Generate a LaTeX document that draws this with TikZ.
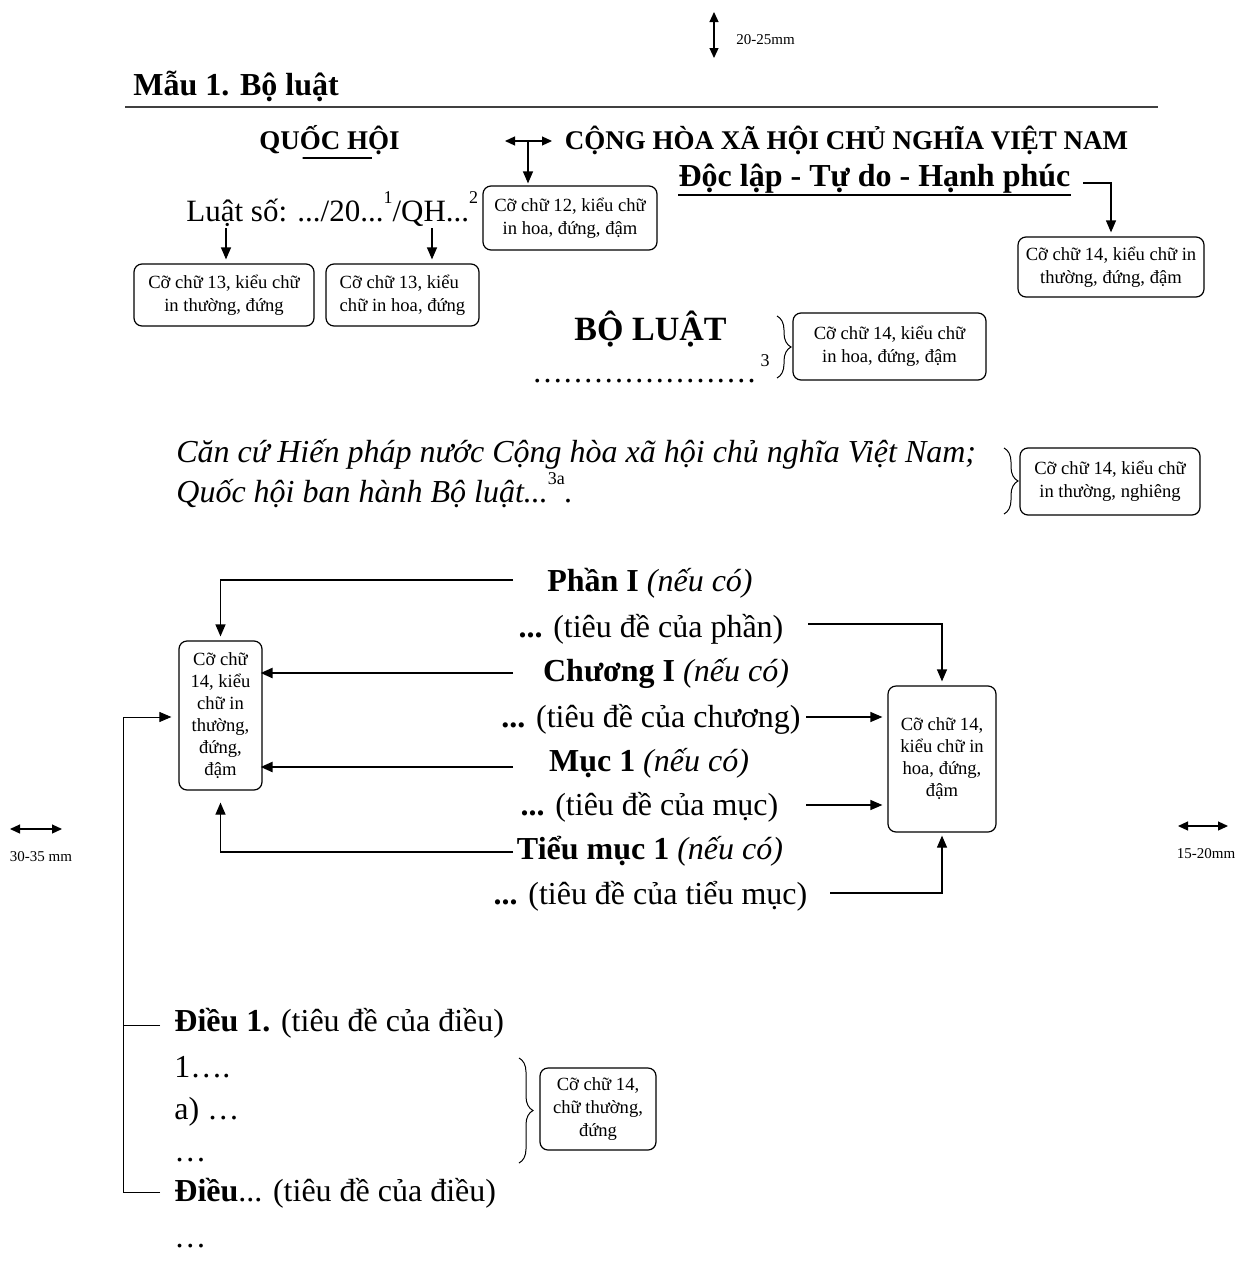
\documentclass[tikz,border=0pt]{standalone}
\usepackage{fontspec}
\setmainfont{Liberation Serif}
\usetikzlibrary{arrows.meta,decorations.pathreplacing,calc}
\begin{document}
\begin{tikzpicture}[x=0.5pt,y=-0.5pt,
  tip/.style={-{Triangle[length=6pt,width=5pt]}},
  dtip/.style={{Triangle[length=5pt,width=4.5pt]}-{Triangle[length=5pt,width=4.5pt]}},
  thinln/.style={line width=0.6pt},
  thickln/.style={line width=1.2pt},
  note/.style={draw,rounded corners=4pt,line width=0.6pt,inner sep=0pt,align=center,font=\fontsize{9.3}{11.5}\selectfont},
  body/.style={inner sep=0pt,font=\fontsize{16}{19}\selectfont},
  bodyb/.style={inner sep=0pt,font=\bfseries\fontsize{16}{19}\selectfont},
  bodyi/.style={inner sep=0pt,font=\itshape\fontsize{16}{19}\selectfont},
  hdr/.style={inner sep=0pt,font=\bfseries\fontsize{13.5}{16}\selectfont},
  mm/.style={inner sep=0pt,font=\fontsize{7.5}{9}\selectfont},
  brc/.style={decorate,decoration={brace,amplitude=7pt},line width=0.5pt}
]
\useasboundingbox (0,0) rectangle (1235,1274);

% top margin marker
\coordinate (t1) at (714,12); \coordinate (t2) at (714,58);
\draw[dtip,thinln] (t1) -- (t2);
\node[mm,anchor=west] (tm) at (736,40) {20-25mm};

% title and rule
\node[bodyb,anchor=base west] (title) at (133,95) {Mẫu 1. Bộ luật};
\coordinate (r1) at (125,107); \coordinate (r2) at (1158,107);
\draw[line width=0.7pt,black!75] (r1) -- (r2);

% header
\node[hdr,anchor=base] (qh) at (329.5,149) {QUỐC HỘI};
\draw[line width=0.8pt] ($(qh.base west)!0.31!(qh.base east)+(0,9)$) -- ($(qh.base west)!0.80!(qh.base east)+(0,9)$);
\node[hdr,anchor=base] (ch) at (846.5,149) {CỘNG HÒA XÃ HỘI CHỦ NGHĨA VIỆT NAM};
\node[bodyb,anchor=base] (dl) at (874.5,186) {Độc lập - Tự do - Hạnh phúc};
\draw[line width=0.8pt] ([yshift=-1pt]dl.south west) -- ([yshift=-1pt]dl.south east);

\node[note] (b12) at (570,218) [minimum width=87pt,minimum height=32pt] {Cỡ chữ 12, kiểu chữ\\in hoa, đứng, đậm};
\coordinate (h1) at (505,141); \coordinate (h2) at (552,141); \coordinate (h0) at (528,141);
\draw[dtip,thinln] (h1) -- (h2);
\draw[tip,thinln,shorten >=1pt] (h0) -- (h0 |- b12.north);

\node[note] (b14a) at (1111,267) [minimum width=93pt,minimum height=30pt] {Cỡ chữ 14, kiểu chữ in\\thường, đứng, đậm};
\coordinate (g0) at (1083,183);
\draw[tip,thinln,shorten >=2pt] (g0) -| (b14a.north);

% Luat so
\newcommand\supr[1]{\raisebox{0.55em}{\fontsize{9}{10}\selectfont #1}}
\node[body,anchor=base west,font=\fontsize{15.5}{18}\selectfont] (ls) at (186,221) {Luật số: .../20...\supr{1}/QH...\supr{2}};
\node[note] (b13a) at (224,295) [minimum width=90pt,minimum height=31pt] {Cỡ chữ 13, kiểu chữ\\in thường, đứng};
\node[note,align=left] (b13b) at (402.5,295) [minimum width=76.5pt,minimum height=31pt] {Cỡ chữ 13, kiểu\\chữ in hoa, đứng};
\coordinate (la) at (226,228); \coordinate (lb) at (432,228);
\draw[tip,thinln,shorten >=2pt] (la) -- (la |- b13a.north);
\draw[tip,thinln,shorten >=2pt] (lb) -- (lb |- b13b.north);

% Bo luat
\def\dd{.\hspace{1.1pt}}
\node[bodyb,anchor=base,font=\bfseries\fontsize{17}{20}\selectfont] (bl) at (650.5,340) {BỘ LUẬT};
\node[body,anchor=base west] (dots) at (533,382) {\dd\dd\dd\dd\dd\dd\dd\dd\dd\dd\dd\dd\dd\dd\dd\dd\dd\dd\dd\dd\dd\dd};
\node[inner sep=0pt,anchor=base,font=\fontsize{9}{10}\selectfont] (n3) at (765,366) {3};
\coordinate (br1a) at (777,316); \coordinate (br1b) at (777,378);
\draw[brc] (br1a) -- (br1b);
\node[note] (b14b) at (889.5,346.5) [minimum width=96.5pt,minimum height=33.5pt] {Cỡ chữ 14, kiểu chữ\\in hoa, đứng, đậm};

% Can cu
\node[bodyi,anchor=base west] (cc1) at (176,462) {Căn cứ Hiến pháp nước Cộng hòa xã hội chủ nghĩa Việt Nam;};
\node[bodyi,anchor=base west] (cc2) at (176,502) {Quốc hội ban hành Bộ luật...\supr{\upshape 3a}.};
\coordinate (br2a) at (1004,448); \coordinate (br2b) at (1004,514);
\draw[brc] (br2a) -- (br2b);
\node[note] (b14c) at (1110,481.5) [minimum width=90pt,minimum height=33.5pt] {Cỡ chữ 14, kiểu chữ\\in thường, nghiêng};

% middle block
\node[body,anchor=base] (m1) at (650,591) {\textbf{Phần I} \textit{(nếu có)}};
\node[body,anchor=base] (m2) at (651,637) {\textbf{...} (tiêu đề của phần)};
\node[body,anchor=base] (m3) at (666,681) {\textbf{Chương I} \textit{(nếu có)}};
\node[body,anchor=base] (m4) at (651,727) {\textbf{...} (tiêu đề của chương)};
\node[body,anchor=base] (m5) at (649,771) {\textbf{Mục 1} \textit{(nếu có)}};
\node[body,anchor=base] (m6) at (649.5,815) {\textbf{...} (tiêu đề của mục)};
\node[body,anchor=base] (m7) at (650,859) {\textbf{Tiểu mục 1} \textit{(nếu có)}};
\node[body,anchor=base] (m8) at (650.5,904) {\textbf{...} (tiêu đề của tiểu mục)};

\node[note,font=\fontsize{9.3}{11}\selectfont] (L) at (220.5,715.5) [minimum width=41.5pt,minimum height=74.5pt] {Cỡ chữ\\14, kiểu\\chữ in\\thường,\\đứng,\\đậm};
\node[note,font=\fontsize{9.3}{11}\selectfont] (R) at (942,759) [minimum width=54pt,minimum height=73pt] {Cỡ chữ 14,\\kiểu chữ in\\hoa, đứng,\\đậm};

\coordinate (a1) at (513,580); \coordinate (a3) at (513,673);
\coordinate (a5) at (513,767); \coordinate (a7) at (513,852);
\draw[tip,thinln,shorten >=2pt] (a1) -| (L.north);
\draw[tip,thickln,shorten >=-1pt] (a3) -- (a3 -| L.east);
\draw[tip,thickln,shorten >=-1pt] (a5) -- (a5 -| L.east);
\draw[tip,thinln,shorten >=6pt] (a7) -| (L.south);

\coordinate (c2) at (808,624); \coordinate (c4) at (806,717);
\coordinate (c6) at (806,805); \coordinate (c8) at (830,893);
\draw[tip,thinln,shorten >=2pt] (c2) -| (R.north);
\draw[tip,thinln,shorten >=2.5pt] (c4) -- (c4 -| R.west);
\draw[tip,thinln,shorten >=2.5pt] (c6) -- (c6 -| R.west);
\draw[tip,thinln,shorten >=1.5pt] (c8) -| (R.south);

% left bracket to articles
\coordinate (v1) at (123,717);
\coordinate (e1) at (160,1025);
\coordinate (e2) at (160,1192);
\draw[tip,line width=0.5pt,shorten >=3.5pt] (e2) -| (v1) -- (v1 -| L.west);
\draw[line width=0.5pt] (e1) -- (e1 -| v1);

% side markers
\coordinate (s1) at (10,829); \coordinate (s2) at (62,829);
\draw[dtip,thinln] (s1) -- (s2);
\node[mm] (s30) at (41,857) {30-35 mm};
\coordinate (s3) at (1178,826); \coordinate (s4) at (1228,826);
\draw[dtip,thinln] (s3) -- (s4);
\node[mm] (s15) at (1206,854) {15-20mm};

% articles
\node[body,anchor=base west] (d1) at (174,1031) {\textbf{Điều 1.} (tiêu đề của điều)};
\node[body,anchor=base west] (k1) at (174,1077) {1….};
\node[body,anchor=base west] (ka) at (174,1119) {a) …};
\node[body,anchor=base west] (k3) at (174,1161) {…};
\node[body,anchor=base west] (d2) at (174,1201) {\textbf{Điều}... (tiêu đề của điều)};
\node[body,anchor=base west] (k4) at (174,1247) {…};
\coordinate (br3a) at (519,1058); \coordinate (br3b) at (519,1163);
\draw[brc] (br3a) -- (br3b);
\node[note] (b14d) at (598,1109) [minimum width=58pt,minimum height=41pt] {Cỡ chữ 14,\\chữ thường,\\đứng};
\end{tikzpicture}
\end{document}
